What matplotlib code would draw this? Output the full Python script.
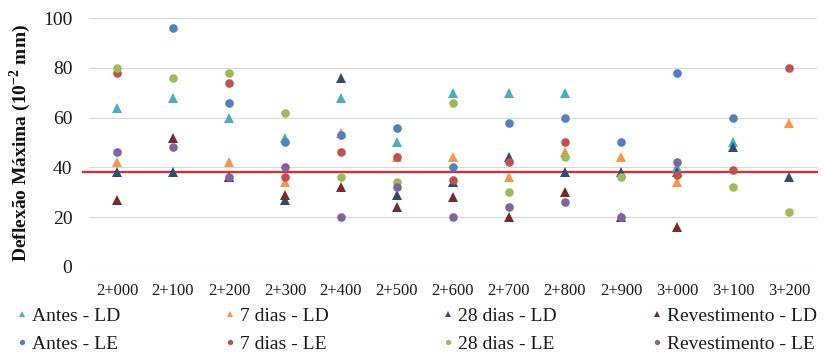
import numpy as np
import matplotlib
matplotlib.use("Agg")
import matplotlib.pyplot as plt
from matplotlib.lines import Line2D

plt.rcParams["font.family"] = ["Liberation Serif", "DejaVu Serif"]
plt.rcParams["mathtext.fontset"] = "custom"
plt.rcParams["mathtext.rm"] = "Liberation Serif"
plt.rcParams["mathtext.bf"] = "Liberation Serif:bold"

nan = np.nan

estacas = ["2+000", "2+100", "2+200", "2+300", "2+400", "2+500", "2+600",
           "2+700", "2+800", "2+900", "3+000", "3+100", "3+200"]

# Lado direito (LD)
antes_ld = [64, 68, 60, 52, 68, 50, 70, 70, 70, nan, 40, 50, nan]
dias7_ld = [42, nan, 42, 34, 54, 44, 44, 36, 46, 44, 34, nan, 58]
dias28_ld = [38, 38, 36, 27, 76, 29, 34, 44, 38, 38, 38, 48, 36]
revest_ld = [27, 52, 36, 29, 32, 24, 28, 20, 30, 20, 16, nan, nan]

# Lado esquerdo (LE)
antes_le = [nan, 96, 66, 50, 53, 56, 40, 58, 60, 50, 78, 60, nan]
dias7_le = [78, nan, 74, 36, 46, 44, 35, 42, 50, nan, 37, 39, 80]
dias28_le = [80, 76, 78, 62, 36, 34, 66, 30, 44, 36, nan, 32, 22]
revest_le = [46, 48, 36, 40, 20, 32, 20, 24, 26, 20, 42, nan, nan]

deflexao_admissivel = 38

series = [
    ("Antes - LD", antes_ld, "^", "#4BACC6"),
    ("7 dias - LD", dias7_ld, "^", "#F79646"),
    ("28 dias - LD", dias28_ld, "^", "#2C4D75"),
    ("Revestimento - LD", revest_ld, "^", "#772C2A"),
    ("Antes - LE", antes_le, "o", "#4F81BD"),
    ("7 dias - LE", dias7_le, "o", "#C0504D"),
    ("28 dias - LE", dias28_le, "o", "#9BBB59"),
    ("Revestimento - LE", revest_le, "o", "#8064A2"),
]

fig = plt.figure(figsize=(8.27, 3.53), dpi=100)
ax = fig.add_axes([0.1076, 0.2445, 0.8803, 0.7037])

x = np.arange(len(estacas))

ax.plot([-0.607, len(estacas) - 0.5], [deflexao_admissivel] * 2,
        color="#E8262B", lw=1.6, zorder=2, clip_on=False)

for i, (nome, valores, marcador, cor) in enumerate(series):
    ms = 6.5 if marcador == "^" else 6.2
    ax.plot(x, valores, linestyle="none", marker=marcador, markersize=ms,
            color=cor, markeredgewidth=0, zorder=3 + i)

ax.set_xlim(-0.5, len(estacas) - 0.5)
ax.set_ylim(0, 100)
ax.set_yticks(np.arange(0, 101, 20))
ax.set_xticks(x)
ax.set_xticklabels(estacas)
ax.grid(axis="y", color="#D9D9D9", lw=0.8, zorder=0)
ax.set_axisbelow(True)
for s in ax.spines.values():
    s.set_visible(False)
ax.tick_params(axis="both", length=0)
ax.tick_params(axis="y", labelsize=14, pad=12, colors="#1a1a1a")
ax.tick_params(axis="x", labelsize=12, pad=12, colors="#1a1a1a")

ax.set_ylabel(r"Deflexão Máxima (10$^{\mathbf{-2}}$ mm)", fontsize=14,
              fontweight="bold", color="#111111")
ax.yaxis.set_label_coords(-0.077, 0.5)

# Legenda: quatro colunas (LD em cima, LE embaixo)
col_x = [14.2, 222.2, 440.2, 649.2]
for c in range(4):
    handles = []
    labels = []
    for nome, valores, marcador, cor in (series[c], series[c + 4]):
        ms = 4.2 if marcador == "^" else 3.8
        handles.append(Line2D([], [], linestyle="none", marker=marcador,
                              markersize=ms, color=cor, markeredgewidth=0))
        labels.append(nome)
    fig.legend(handles, labels, loc="upper left",
               bbox_to_anchor=(col_x[c] / 827, 1 - 307 / 353),
               frameon=False, fontsize=14, borderpad=0, borderaxespad=0,
               handlelength=0.8, handletextpad=0.12, labelspacing=0.55,
               labelcolor="#1a1a1a")

fig.savefig("out.png", dpi=100)
